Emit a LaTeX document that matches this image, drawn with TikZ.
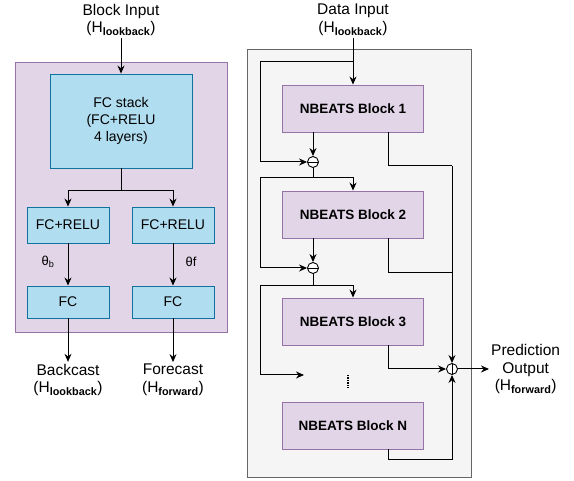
\documentclass[tikz,border=0pt]{standalone}
\usepackage{fontspec}
\setmainfont{Liberation Sans}
\usetikzlibrary{arrows.meta, positioning, calc}

\definecolor{purpfill}{HTML}{E1D5E7}
\definecolor{purpline}{HTML}{9673A6}
\definecolor{bluefill}{HTML}{B1DDF0}
\definecolor{blueline}{HTML}{10739E}
\definecolor{greyfill}{HTML}{F5F5F5}
\definecolor{greyline}{HTML}{666666}
\newcommand{\hsub}[1]{H\textsubscript{\bfseries #1}}

\begin{document}
\begin{tikzpicture}[
    x=1pt, y=-1pt,
    >={Stealth[length=8pt, width=7pt]},
    fcbox/.style={draw=blueline, fill=bluefill, line width=0.9pt,
                  align=center, font=\fontsize{14}{17}\selectfont},
    nbblock/.style={draw=purpline, fill=purpfill, line width=0.9pt,
                    minimum width=141, minimum height=47,
                    font=\bfseries\fontsize{13.5}{16}\selectfont},
    lbl/.style={align=center, inner sep=2pt, font=\fontsize{15.5}{17.5}\selectfont},
    opnode/.style={circle, draw, fill=white, line width=0.9pt,
                   minimum size=11, inner sep=0pt},
    minus/.style={opnode, path picture={
        \draw[line width=0.9pt] (path picture bounding box.west) --
                                (path picture bounding box.east);}},
    plus/.style={minus, path picture={
        \draw[line width=0.9pt] (path picture bounding box.north) --
                                (path picture bounding box.south);}},
    wire/.style={line width=1pt}
  ]
  \useasboundingbox (0,0) rectangle (574,481);

  % background panels
  \node[draw=purpline, fill=purpfill, line width=0.9pt,
        minimum width=212, minimum height=270] (blockbg) at (121,197) {};
  \node[draw=greyline, fill=greyfill, line width=0.9pt,
        minimum width=224, minimum height=428] (stackbg) at (359,263) {};

  % --- one NBEATS block ---
  \node[lbl] (blockin) at (121,20) {Block Input\\(\hsub{lookback})};
  \node[fcbox, minimum width=142, minimum height=94] (stack) at (121,121)
    {FC stack\\(FC+RELU\\4 layers)};
  \node[fcbox, minimum width=82, minimum height=36] (relub) at (68,225) {FC+RELU};
  \node[fcbox, minimum width=82, minimum height=36] (reluf) at (173,225) {FC+RELU};
  \node[fcbox, minimum width=82, minimum height=32] (fcb) at (68,302) {FC};
  \node[fcbox, minimum width=82, minimum height=32] (fcf) at (173,302) {FC};
  \node[lbl, font=\fontsize{13}{15}\selectfont] (thb) at (48,262) {θ\textsubscript{b}};
  \node[lbl, font=\fontsize{13}{15}\selectfont] (thf) at (191,262) {θf};
  \node[lbl] (backcast) at (68,380) {Backcast\\(\hsub{lookback})};
  \node[lbl] (forecast) at (173,380) {Forecast\\(\hsub{forward})};
  \coordinate (split) at (121,191);

  \draw[wire, ->] (blockin) -- (stack);
  \draw[wire] (stack) -- (split);
  \draw[wire, ->] (split) -| (relub);
  \draw[wire, ->] (split) -| (reluf);
  \draw[wire, ->] (relub) -- (fcb);
  \draw[wire, ->] (reluf) -- (fcf);
  \draw[wire, ->] (fcb) -- (backcast);
  \draw[wire, ->] (fcf) -- (forecast);

  % --- stack of blocks ---
  \node[lbl] (datain) at (353,20) {Data Input\\(\hsub{lookback})};
  \node[nbblock] (nb1) at (353,108.5) {NBEATS Block 1};
  \node[nbblock] (nb2) at (353,214.5) {NBEATS Block 2};
  \node[nbblock] (nb3) at (353,321.5) {NBEATS Block 3};
  \node[nbblock] (nbN) at (353,425.5) {NBEATS Block N};
  \node[minus] (sub1) at (313,162) {};
  \node[minus] (sub2) at (313,268) {};
  \node[plus] (sum) at (452,369) {};
  \node[lbl, anchor=west] (pred) at (489,369)
    {Prediction\\Output\\(\hsub{forward})};

  \coordinate (rail) at (260,0);   % left skip line
  \coordinate (fx) at (388,0);     % forecast taps
  \coordinate (tap1) at (353,62);
  \coordinate (tap2) at (313,178);
  \coordinate (tap3) at (313,286);
  \coordinate (gap) at (304,375);
  \coordinate (j1) at (452,166);
  \coordinate (j2) at (452,273);
  \coordinate (j3) at (452,460);

  % residual path
  \draw[wire, ->] (datain) -- (nb1);
  \draw[wire, ->] (tap1) -| (rail |- sub1) -- (sub1);
  \draw[wire, ->] (nb1.south -| sub1) -- (sub1);
  \draw[wire] (sub1) -- (tap2);
  \draw[wire, ->] (tap2) -| (nb2);
  \draw[wire, ->] (tap2) -| (rail |- sub2) -- (sub2);
  \draw[wire, ->] (nb2.south -| sub2) -- (sub2);
  \draw[wire] (sub2) -- (tap3);
  \draw[wire, ->] (tap3) -| (nb3);
  \draw[wire, ->] (tap3) -| (rail |- gap) -- (gap);
  \draw[line width=1.2pt, dash pattern=on 1.2pt off 1.3pt] (348,375) -- (348,388);

  % forecast path
  \draw[wire] (nb1.south -| fx) |- (j1);
  \draw[wire, ->] (j1) -- (sum);
  \draw[wire] (nb2.south -| fx) |- (j2);
  \draw[wire, ->] (nb3.south -| fx) |- (sum);
  \draw[wire, ->] (nbN.south -| fx) |- (j3) -- (sum);
  \draw[wire, ->] (sum) -- (pred);
\end{tikzpicture}
\end{document}
